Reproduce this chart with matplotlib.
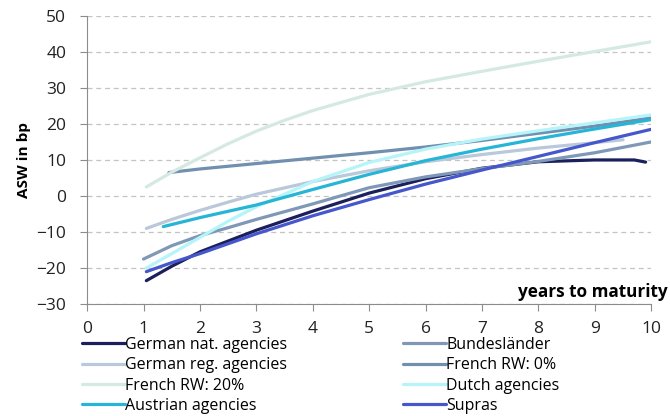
import matplotlib
matplotlib.use("Agg")
import matplotlib.pyplot as plt

plt.rcParams['font.family'] = ['Open Sans', 'DejaVu Sans']

# maturities (years) and asset swap spreads (bp)
x_nat = [1.05, 1.5, 2, 2.5, 3, 4, 5, 6, 7, 8, 9, 9.7, 9.9]
y_nat = [-23.5, -19.5, -15.5, -12.5, -9.5, -4.2, 0.8, 4.8, 7.7, 9.5, 10.0, 10.0, 9.4]

x_bund = [1.0, 1.5, 2, 2.5, 3, 4, 5, 6, 7, 8, 9, 10]
y_bund = [-17.5, -13.8, -11.0, -8.8, -6.5, -2.2, 2.3, 5.3, 7.6, 9.6, 12.0, 15.0]

x_reg = [1.05, 1.5, 2, 2.5, 3, 4, 5, 6, 7, 8, 9, 9.5]
y_reg = [-9.0, -6.5, -4.0, -1.7, 0.5, 4.0, 7.0, 9.5, 11.5, 13.3, 14.8, 15.6]

x_fr0 = [1.45, 2, 3, 4, 5, 6, 7, 8, 9, 10]
y_fr0 = [6.5, 7.5, 9.0, 10.5, 12.0, 13.6, 15.4, 17.4, 19.4, 21.7]

x_fr20 = [1.05, 1.5, 2, 2.5, 3, 3.5, 4, 5, 6, 7, 8, 9, 10]
y_fr20 = [2.5, 6.6, 10.6, 14.5, 18.0, 21.0, 23.7, 28.2, 31.7, 34.6, 37.4, 40.1, 42.8]

x_dutch = [1.05, 1.5, 2, 2.5, 3, 4, 5, 6, 7, 8, 9, 10]
y_dutch = [-20.0, -16.0, -11.5, -7.0, -3.0, 4.0, 9.3, 13.0, 15.8, 18.1, 20.3, 22.5]

x_aut = [1.35, 2, 3, 4, 5, 6, 7, 8, 9, 10]
y_aut = [-8.5, -6.0, -2.5, 1.8, 6.0, 9.8, 13.0, 15.9, 18.6, 21.2]

x_sup = [1.05, 1.5, 2, 3, 4, 5, 6, 7, 8, 9, 10]
y_sup = [-21.0, -18.5, -16.0, -10.5, -5.5, -1.0, 3.3, 7.2, 11.0, 14.8, 18.5]

series = [
    ("German nat. agencies", x_nat, y_nat, "#1b1f5c"),
    ("Bundesländer", x_bund, y_bund, "#7f98b8"),
    ("German reg. agencies", x_reg, y_reg, "#b9c8da"),
    ("French RW: 0%", x_fr0, y_fr0, "#7190b0"),
    ("French RW: 20%", x_fr20, y_fr20, "#d5e9e3"),
    ("Dutch agencies", x_dutch, y_dutch, "#b5f4f8"),
    ("Austrian agencies", x_aut, y_aut, "#27b5d6"),
    ("Supras", x_sup, y_sup, "#4657cc"),
]

fig = plt.figure(figsize=(6.7, 4.16), dpi=100)
ax = fig.add_axes([0.13, 0.269, 0.842, 0.693])

lines = {}
for name, xs, ys, col in series:
    ln, = ax.plot(xs, ys, color=col, lw=2.3, solid_capstyle='round',
                  solid_joinstyle='round', label=name)
    lines[name] = ln

ax.set_xlim(0, 10)
ax.set_ylim(-30, 50)
ax.set_xticks(range(0, 11))
ax.set_yticks(range(-30, 51, 10))
ax.yaxis.grid(True, color='#c4c4c4', linestyle=(0, (4, 3)), lw=0.9)
ax.set_axisbelow(True)
for s in ['top', 'right']:
    ax.spines[s].set_visible(False)
for s in ['left', 'bottom']:
    ax.spines[s].set_color('#8c8c8c')
ax.tick_params(axis='both', colors='#8c8c8c', labelcolor='#222222',
               labelsize=12.5, length=5, direction='out')
ax.tick_params(axis='x', pad=7)
ax.tick_params(axis='y', pad=10)

ax.set_ylabel("ASW in bp", fontsize=11, fontweight='bold', labelpad=6)
ax.yaxis.set_label_coords(-0.1, 0.5)
fig.text(0.997, 0.276, "years to maturity", ha='right', va='bottom',
         fontsize=12.3, fontweight='bold')

col1 = ["German nat. agencies", "German reg. agencies", "French RW: 20%",
        "Austrian agencies"]
col2 = ["Bundesländer", "French RW: 0%", "Dutch agencies", "Supras"]
for names, x0 in [(col1, 82), (col2, 403)]:
    fig.legend([lines[n] for n in names], names, loc='upper left',
               bbox_to_anchor=(x0 / 670, 1 - 337 / 416), frameon=False,
               fontsize=11.5, handlelength=2.7, handletextpad=0.0,
               labelspacing=0.27, borderaxespad=0, borderpad=0)

fig.savefig("out.png", dpi=100)
